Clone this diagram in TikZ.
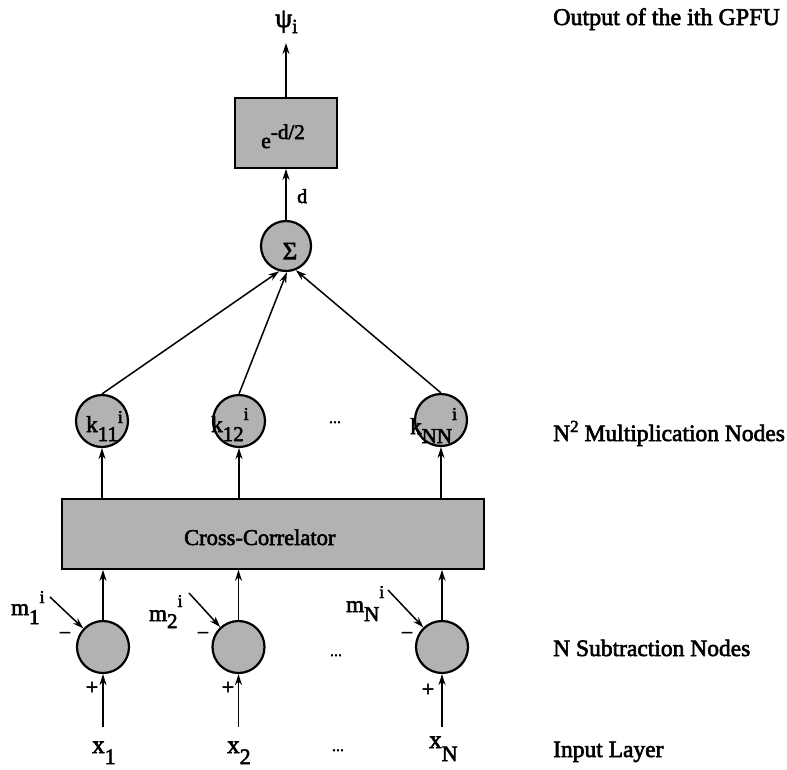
\documentclass[tikz,border=0pt]{standalone}
\usepackage{fontspec}
\setmainfont{Liberation Serif}[FakeBold=2.5]
\usetikzlibrary{arrows.meta}
\newcommand{\fs}[1]{\fontsize{#1}{#1}\selectfont}
\begin{document}
\begin{tikzpicture}[x=1pt,y=-1pt,
  shade/.style={fill=black!30},
  circ/.style={circle,draw,line width=2.2pt,shade,minimum size=52pt,inner sep=0pt},
  blk/.style={rectangle,draw,line width=1.7pt,shade,inner sep=0pt},
  arr/.style={line width=1.5pt,-{Stealth[length=11pt,width=7pt]}},
  txt/.style={inner sep=0pt,anchor=base west,font=\fs{23}},
  sgn/.style={inner sep=0pt,font=\fs{22}},
  dts/.style={inner sep=0pt,anchor=base,font=\fs{16}},
  side/.style={inner sep=0pt,anchor=base west,font=\fs{23.5}}]
\useasboundingbox (0,0) rectangle (787,769);

% boxes and circles
\node[blk,minimum width=102pt,minimum height=70pt] (exp) at (286,133) {};
\node[circ,minimum size=50pt] (sig) at (286,246) {};
\node[circ] (k1) at (102,421) {};
\node[circ] (k2) at (239,421) {};
\node[circ] (kN) at (441,420) {};
\node[blk,minimum width=422pt,minimum height=70pt] (cc) at (273,534) {};
\node[circ] (s1) at (103,647) {};
\node[circ] (s2) at (238.5,647) {};
\node[circ] (sN) at (442,647) {};

% texts inside
\node[txt,font=\fs{22}] (et) at (261,148) {e\raisebox{9pt}{\fs{21}-d/2}};
\node[inner sep=0pt,font=\fs{25}] (sigt) at (290,251) {Σ};
\node[txt] (k1t) at (86,432) {k\raisebox{-9pt}{\fs{21}11}\raisebox{9pt}{\fs{18}i}};
\node[txt] (k2t) at (211,432) {k\raisebox{-9pt}{\fs{21}12}\raisebox{12pt}{\fs{18}i}};
\node[txt] (kNt) at (410,434) {k\raisebox{-9pt}{\fs{21}NN}\raisebox{14pt}{\fs{18}i}};
\node[txt,font=\fs{22.5}] (cct) at (184,545) {Cross-Correlator};

% top
\node[txt,font=\fs{27}] (psi) at (275,27) {ψ\raisebox{-6pt}{\fs{20}i}};
\coordinate (top) at (286,43);
\draw[arr] (exp.north) -- (top);
\draw[arr] (sig) -- (exp);
\node[txt,font=\fs{20}] (dl) at (297,203) {d};

% multiplication to sum
\draw[arr] (k1.north) -- (sig.-105);
\draw[arr] (k2.north) -- (sig.-88);
\draw[arr] (kN.north) -- (sig.-68);
\node[dts] (dk) at (335,423) {...};

% cross-correlator to multiplication
\draw[arr] (cc.north -| k1) -- (k1);
\draw[arr] (cc.north -| k2) -- (k2);
\draw[arr] (cc.north -| kN) -- (kN);

% subtraction to cross-correlator
\draw[arr] (s1) -- (s1 |- cc.south);
\draw[arr] (s2) -- (s2 |- cc.south);
\draw[arr] (sN) -- (sN |- cc.south);
\node[dts] (ds) at (336,656) {...};

% means
\node[txt] (m1) at (11,615) {m\raisebox{-9pt}{\fs{21}1}\raisebox{12pt}{\fs{18}i}};
\node[txt] (m2) at (149,621) {m\raisebox{-7pt}{\fs{21}2}\raisebox{14pt}{\fs{18}i}};
\node[txt] (mN) at (346,612) {m\raisebox{-9pt}{\fs{21}N}\raisebox{14pt}{\fs{18}i}};
\coordinate (m1s) at (50,597);
\coordinate (m2s) at (189,593);
\coordinate (mNs) at (388,590);
\draw[arr] (m1s) -- (s1);
\draw[arr] (m2s) -- (s2);
\draw[arr] (mNs) -- (sN);

% signs
\node[sgn] (n1) at (65,636) {−};
\node[sgn] (n2) at (203,636) {−};
\node[sgn] (nN) at (407,636) {−};
\node[sgn] (p1) at (92,688) {+};
\node[sgn] (p2) at (228,688) {+};
\node[sgn] (pN) at (428,690) {+};

% inputs
\coordinate (i1) at (103,727);
\coordinate (i2) at (238.5,727);
\coordinate (iN) at (442,727);
\draw[arr] (i1) -- (s1);
\draw[arr] (i2) -- (s2);
\draw[arr] (iN) -- (sN);
\node[txt,font=\fs{25}] (x1) at (92,753) {x\raisebox{-11pt}{\fs{22}1}};
\node[txt,font=\fs{25}] (x2) at (227,753) {x\raisebox{-11pt}{\fs{22}2}};
\node[txt,font=\fs{25}] (xN) at (429,748) {x\raisebox{-13pt}{\fs{22}N}};
\node[dts] (dx) at (338,751) {...};

% side labels
\node[side,font=\fs{24}] (lo) at (553,25) {Output of the ith GPFU};
\node[side] (lm) at (553,441) {N\raisebox{9pt}{\fs{17}2} Multiplication Nodes};
\node[side] (ls) at (553,656) {N Subtraction Nodes};
\node[side] (li) at (553,757) {Input Layer};
\end{tikzpicture}
\end{document}
